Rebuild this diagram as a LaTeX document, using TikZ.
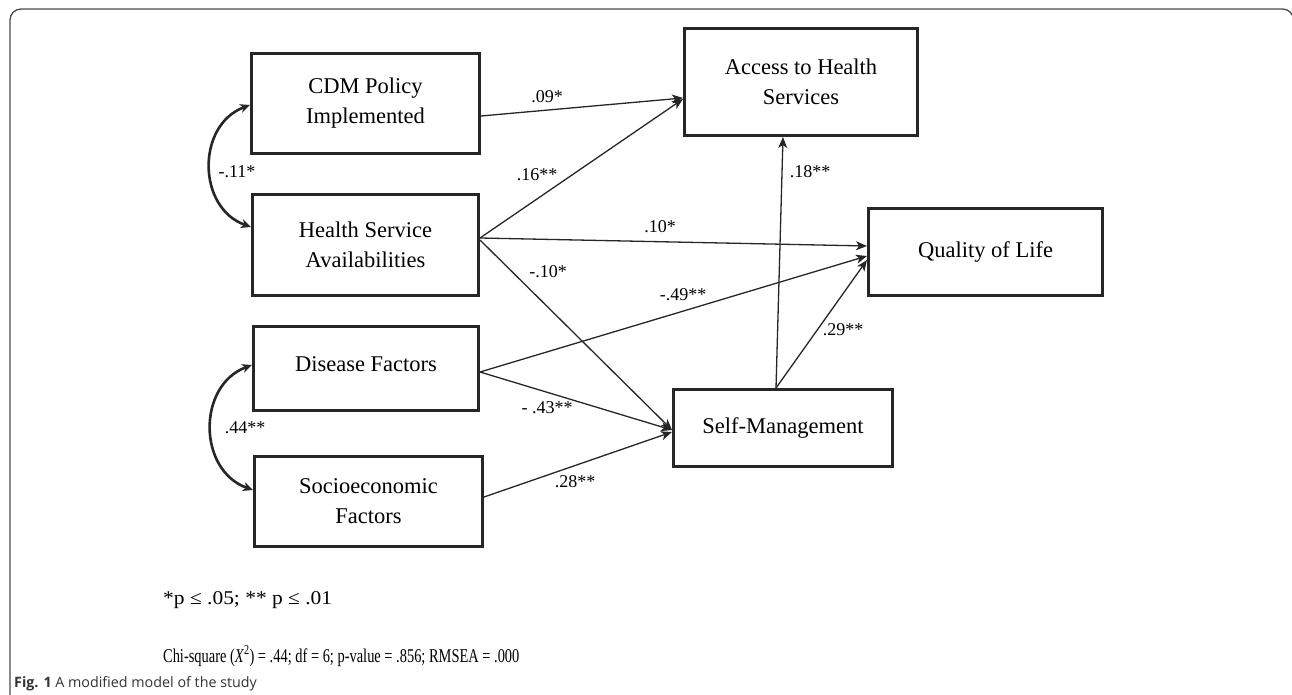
\documentclass[tikz,border=0pt]{standalone}
\usepackage{fontspec}
\setmainfont{Liberation Serif}
\newfontfamily\capfont{Open Sans}
\usetikzlibrary{arrows.meta}

\tikzset{
	box/.style={draw=black!85, line width=3pt, align=center, inner sep=2pt,
		font=\fontsize{22.5}{30}\selectfont},
	arr/.style={draw=black!85, line width=1.3pt, -{Stealth[length=11pt,width=9pt,inset=3pt]}},
	corr/.style={draw=black!85, line width=2.6pt, {Stealth[length=10pt,width=9pt,inset=3pt]}-{Stealth[length=10pt,width=9pt,inset=3pt]}},
	coef/.style={inner sep=0pt, font=\fontsize{18}{20}\selectfont},
	note/.style={anchor=west, inner sep=0pt, font=\fontsize{19.5}{22}\selectfont}
}

\begin{document}
\begin{tikzpicture}[x=1pt, y=-1pt]
	\useasboundingbox (0,0) rectangle (1292,695);
	% frame of the figure
	\draw[black!70, line width=1.3pt, rounded corners=11pt]
		(10,720) -- (10,9) -- (1293.5,9) -- (1293.5,720);

	% variables
	\node[box, minimum width=228pt, minimum height=100pt] (cdm) at (365.5,103.5) {CDM Policy\\Implemented};
	\node[box, minimum width=233pt, minimum height=107pt] (access) at (801,82) {Access to Health\\Services};
	\node[box, minimum width=226pt, minimum height=101pt] (hsa) at (365.5,245) {Health Service\\Availabilities};
	\node[box, minimum width=234pt, minimum height=87pt] (qol) at (985.5,252) {Quality of Life};
	\node[box, minimum width=225pt, minimum height=84pt] (disease) at (366,368.5) {\raisebox{8pt}{Disease Factors}};
	\node[box, minimum width=228pt, minimum height=90pt] (socio) at (368.5,501.5) {Socioeconomic\\Factors};
	\node[box, minimum width=219pt, minimum height=77pt] (selfm) at (783,428) {Self-Management};

	% paths
	\draw[arr] ([yshift=-12.5pt]cdm.east) -- ([yshift=-16pt]access.west);
	\draw[arr] ([yshift=7pt]hsa.east) -- ([yshift=-17pt]access.west);
	\draw[arr] ([yshift=7pt]hsa.east) -- ([yshift=6pt]qol.west);
	\draw[arr] ([yshift=5pt]hsa.east) -- ([yshift=-2pt]selfm.west);
	\draw[arr] ([yshift=-3.5pt]disease.east) -- ([yshift=-4pt]qol.west);
	\draw[arr] ([yshift=-3.5pt]disease.east) -- ([yshift=-2pt]selfm.west);
	\draw[arr] ([yshift=4.5pt]socio.east) -- ([yshift=-4pt]selfm.west);
	\draw[arr] ([xshift=-7pt]selfm.north) -- ([xshift=-18pt]access.south);
	\draw[arr] ([xshift=-7pt]selfm.north) -- ([yshift=-8pt]qol.west);

	% correlations
	\draw[corr] ([yshift=-1.5pt]cdm.west) to[bend right=70, looseness=1.2] ([yshift=18pt]hsa.west);
	\draw[corr] ([yshift=3.5pt]disease.west) to[bend right=70, looseness=1.2] ([yshift=11.5pt]socio.west);

	% coefficients
	\node[coef] (c1) at (547,97) {.09*};
	\node[coef] (c2) at (537,175) {.16**};
	\node[coef] (c3) at (660,227) {.10*};
	\node[coef] (c4) at (548,272) {-.10*};
	\node[coef] (c5) at (683,295) {-.49**};
	\node[coef] (c6) at (547,408) {- .43**};
	\node[coef] (c7) at (575,482) {.28**};
	\node[coef] (c8) at (810,172) {.18**};
	\node[coef] (c9) at (843,330) {.29**};
	\node[coef] (c10) at (237,172) {-.11*};
	\node[coef] (c11) at (245,428) {.44**};

	% notes and caption
	\node[note, xscale=1.1] (sig) at (163,600) {*p ≤ .05; ** p ≤ .01};
	\node[note, xscale=0.74] (fit) at (163,656) {Chi-square (\textit{X}\textsuperscript{2}) = .44; df = 6; p-value = .856; RMSEA = .000};
	\node[anchor=west, inner sep=0pt, text=black!80, font=\capfont\fontsize{14.3}{17}\selectfont] (cap) at (14,684)
		{\textbf{Fig. 1} A modified model of the study};
\end{tikzpicture}
\end{document}
